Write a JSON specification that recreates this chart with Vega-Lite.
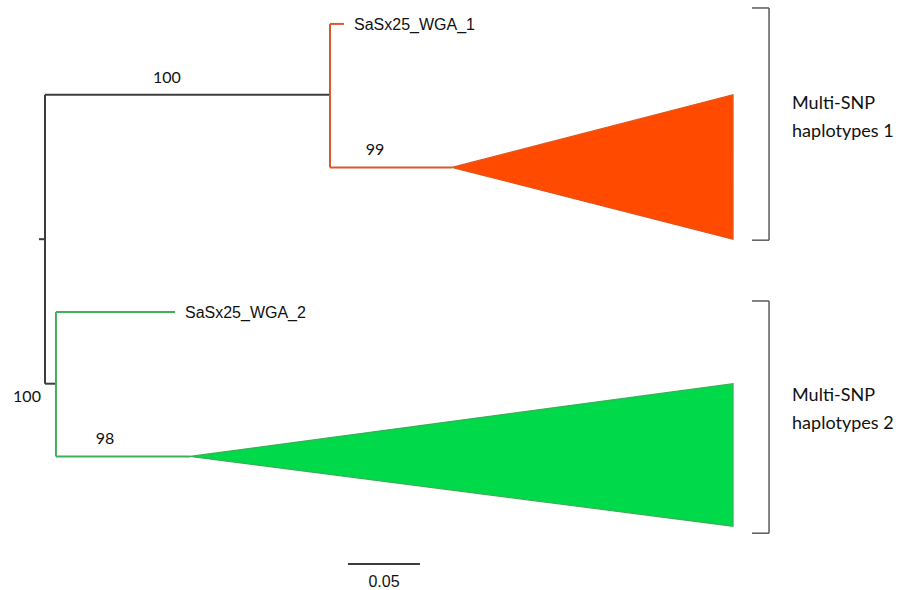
{
  "$schema": "https://vega.github.io/schema/vega-lite/v6.json",
  "width": 909,
  "height": 590,
  "padding": 0,
  "autosize": {"type": "fit", "contains": "padding"},
  "background": "white",
  "config": {"view": {"stroke": null}},
  "datasets": {
    "branches": [
      {"id": "root", "clade": "base", "x": -0.0042, "x2": 0, "y": 240, "y2": 240},
      {"id": "rootv", "clade": "base", "x": 0, "x2": 0, "y": 95, "y2": 385},
      {"id": "c1", "clade": "base", "x": 0, "x2": 0.1979, "y": 95, "y2": 95},
      {"id": "c2", "clade": "base", "x": 0, "x2": 0.0076, "y": 385, "y2": 385},
      {"id": "c1v", "clade": "hap1", "x": 0.1979, "x2": 0.1979, "y": 24, "y2": 168},
      {"id": "wga1", "clade": "hap1", "x": 0.1979, "x2": 0.2076, "y": 24, "y2": 24},
      {"id": "h1", "clade": "hap1", "x": 0.1979, "x2": 0.2826, "y": 168, "y2": 168},
      {"id": "c2v", "clade": "hap2", "x": 0.0076, "x2": 0.0076, "y": 313, "y2": 458},
      {"id": "wga2", "clade": "hap2", "x": 0.0076, "x2": 0.0903, "y": 313, "y2": 313},
      {"id": "h2", "clade": "hap2", "x": 0.0076, "x2": 0.1007, "y": 458, "y2": 458},
      {"id": "scale", "clade": "base", "x": 0.2104, "x2": 0.2604, "y": 566, "y2": 566}
    ],
    "brackets": [
      {"x": 0.5028, "x2": 0.5028, "y": 8, "y2": 241},
      {"x": 0.4910, "x2": 0.5028, "y": 8, "y2": 8},
      {"x": 0.4910, "x2": 0.5028, "y": 241, "y2": 241},
      {"x": 0.5028, "x2": 0.5028, "y": 302, "y2": 535},
      {"x": 0.4910, "x2": 0.5028, "y": 302, "y2": 302},
      {"x": 0.4910, "x2": 0.5028, "y": 535, "y2": 535}
    ],
    "triangles": [
      {"clade": "hap1", "x": 0.2826, "y": 168, "y2": 168},
      {"clade": "hap1", "x": 0.4778, "y": 95, "y2": 240},
      {"clade": "hap2", "x": 0.1007, "y": 458, "y2": 458},
      {"clade": "hap2", "x": 0.4778, "y": 385, "y2": 528}
    ],
    "support": [
      {"label": "100", "x": 0.0847, "y": 83},
      {"label": "99", "x": 0.2292, "y": 156},
      {"label": "100", "x": -0.0125, "y": 403},
      {"label": "98", "x": 0.0417, "y": 446}
    ],
    "tips": [
      {"label": "SaSx25_WGA_1", "x": 0.2146, "y": 30},
      {"label": "SaSx25_WGA_2", "x": 0.0972, "y": 319}
    ],
    "groups": [
      {"label": "Multi-SNP", "x": 0.5188, "y": 109},
      {"label": "haplotypes 1", "x": 0.5188, "y": 137},
      {"label": "Multi-SNP", "x": 0.5188, "y": 402},
      {"label": "haplotypes 2", "x": 0.5188, "y": 430}
    ],
    "scalelabel": [
      {"label": "0.05", "x": 0.2354, "y": 589}
    ]
  },
  "layer": [
    {
      "data": {"name": "triangles"},
      "mark": {"type": "area", "orient": "vertical", "strokeWidth": 1.2},
      "encoding": {
        "x": {"field": "x", "type": "quantitative", "scale": {"domain": [-0.03125, 0.6], "nice": false, "zero": false}, "axis": null},
        "y": {"field": "y", "type": "quantitative", "scale": {"domain": [0, 590], "reverse": true, "nice": false, "zero": false}, "axis": null},
        "y2": {"field": "y2"},
        "detail": {"field": "clade"},
        "fill": {"field": "clade", "type": "nominal", "scale": {"domain": ["hap1", "hap2"], "range": ["#ff4a00", "#00d94a"]}, "legend": null},
        "stroke": {"field": "clade", "type": "nominal", "scale": {"domain": ["hap1", "hap2"], "range": ["#e0561f", "#3cae55"]}, "legend": null},
        "fillOpacity": {"value": 1}
      }
    },
    {
      "data": {"name": "branches"},
      "mark": {"type": "rule", "strokeWidth": 2},
      "encoding": {
        "x": {"field": "x", "type": "quantitative", "scale": {"domain": [-0.03125, 0.6], "nice": false, "zero": false}, "axis": null},
        "x2": {"field": "x2"},
        "y": {"field": "y", "type": "quantitative", "scale": {"domain": [0, 590], "reverse": true, "nice": false, "zero": false}, "axis": null},
        "y2": {"field": "y2"},
        "color": {"field": "clade", "type": "nominal", "scale": {"domain": ["base", "hap1", "hap2"], "range": ["#3d3d3d", "#d9592e", "#40ae5c"]}, "legend": null}
      }
    },
    {
      "data": {"name": "brackets"},
      "mark": {"type": "rule", "strokeWidth": 1.5, "color": "#5a5a5a"},
      "encoding": {
        "x": {"field": "x", "type": "quantitative", "axis": null},
        "x2": {"field": "x2"},
        "y": {"field": "y", "type": "quantitative", "axis": null},
        "y2": {"field": "y2"}
      }
    },
    {
      "data": {"name": "support"},
      "mark": {"type": "text", "font": "Lato", "fontSize": 16, "align": "center", "baseline": "alphabetic", "color": "#111111"},
      "encoding": {
        "x": {"field": "x", "type": "quantitative", "axis": null},
        "y": {"field": "y", "type": "quantitative", "axis": null},
        "text": {"field": "label"}
      }
    },
    {
      "data": {"name": "tips"},
      "mark": {"type": "text", "font": "Liberation Sans", "fontSize": 16, "align": "left", "baseline": "alphabetic", "color": "#111111"},
      "encoding": {
        "x": {"field": "x", "type": "quantitative", "axis": null},
        "y": {"field": "y", "type": "quantitative", "axis": null},
        "text": {"field": "label"}
      }
    },
    {
      "data": {"name": "groups"},
      "mark": {"type": "text", "font": "Lato", "fontSize": 18, "align": "left", "baseline": "alphabetic", "color": "#111111"},
      "encoding": {
        "x": {"field": "x", "type": "quantitative", "axis": null},
        "y": {"field": "y", "type": "quantitative", "axis": null},
        "text": {"field": "label"}
      }
    },
    {
      "data": {"name": "scalelabel"},
      "mark": {"type": "text", "font": "Liberation Sans", "fontSize": 16, "align": "center", "baseline": "alphabetic", "color": "#111111"},
      "encoding": {
        "x": {"field": "x", "type": "quantitative", "axis": null},
        "y": {"field": "y", "type": "quantitative", "axis": null},
        "text": {"field": "label"}
      }
    }
  ]
}
